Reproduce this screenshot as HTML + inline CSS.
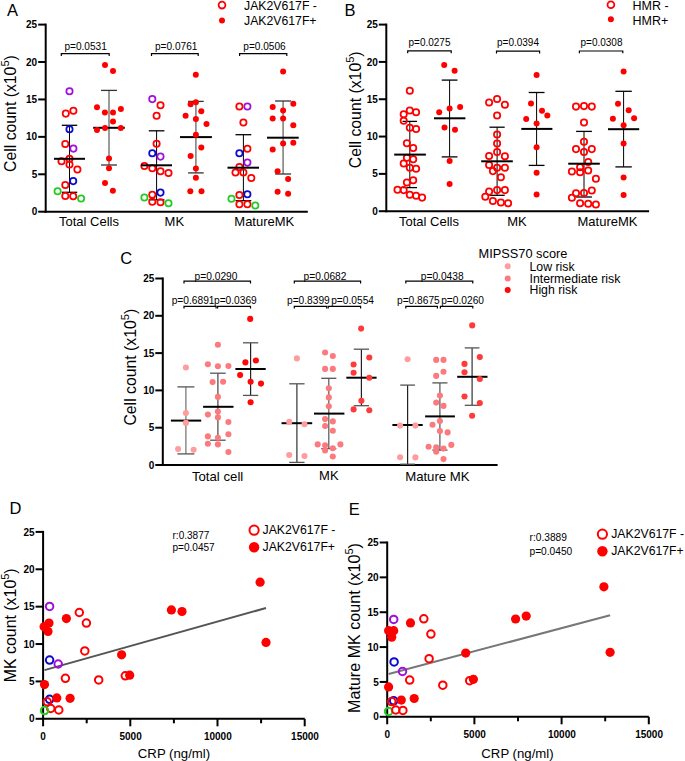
<!DOCTYPE html><html><head><meta charset="utf-8"><style>html,body{margin:0;padding:0;background:#fff;width:685px;height:761px;overflow:hidden}svg{display:block}text{font-family:"Liberation Sans",sans-serif}</style></head><body>
<svg width="685" height="761" viewBox="0 0 685 761">
<rect width="685" height="761" fill="#fff"/>
<text x="7" y="16.2" font-size="16.5" text-anchor="start" font-weight="normal" fill="#000" >A</text>
<line x1="45.7" y1="23.6" x2="45.7" y2="212.7" stroke="#000" stroke-width="2" stroke-linecap="butt"/>
<line x1="38.2" y1="211.7" x2="45.7" y2="211.7" stroke="#000" stroke-width="2" stroke-linecap="butt"/>
<text x="37.2" y="215.29999999999998" font-size="10" text-anchor="end" font-weight="bold" fill="#000" >0</text>
<line x1="38.2" y1="174.27999999999997" x2="45.7" y2="174.27999999999997" stroke="#000" stroke-width="2" stroke-linecap="butt"/>
<text x="37.2" y="177.87999999999997" font-size="10" text-anchor="end" font-weight="bold" fill="#000" >5</text>
<line x1="38.2" y1="136.85999999999999" x2="45.7" y2="136.85999999999999" stroke="#000" stroke-width="2" stroke-linecap="butt"/>
<text x="37.2" y="140.45999999999998" font-size="10" text-anchor="end" font-weight="bold" fill="#000" >10</text>
<line x1="38.2" y1="99.43999999999998" x2="45.7" y2="99.43999999999998" stroke="#000" stroke-width="2" stroke-linecap="butt"/>
<text x="37.2" y="103.03999999999998" font-size="10" text-anchor="end" font-weight="bold" fill="#000" >15</text>
<line x1="38.2" y1="62.01999999999998" x2="45.7" y2="62.01999999999998" stroke="#000" stroke-width="2" stroke-linecap="butt"/>
<text x="37.2" y="65.61999999999998" font-size="10" text-anchor="end" font-weight="bold" fill="#000" >20</text>
<line x1="38.2" y1="24.599999999999994" x2="45.7" y2="24.599999999999994" stroke="#000" stroke-width="2" stroke-linecap="butt"/>
<text x="37.2" y="28.199999999999996" font-size="10" text-anchor="end" font-weight="bold" fill="#000" >25</text>
<line x1="44.7" y1="211.7" x2="307.8" y2="211.7" stroke="#000" stroke-width="2" stroke-linecap="butt"/>
<text transform="translate(16,113.6) rotate(-90)" font-size="15.8" text-anchor="middle">Cell count (x10<tspan font-size="11" dy="-7">5</tspan><tspan dy="7">)</tspan></text>
<text x="89" y="226.1" font-size="13" text-anchor="middle" font-weight="normal" fill="#000" >Total Cells</text>
<text x="174.3" y="226.1" font-size="13" text-anchor="middle" font-weight="normal" fill="#000" >MK</text>
<text x="264.3" y="226.1" font-size="13" text-anchor="middle" font-weight="normal" fill="#000" >MatureMK</text>
<circle cx="222" cy="5.1" r="3.4" fill="none" stroke="#ff0000" stroke-width="1.8"/>
<circle cx="222" cy="20.6" r="3.0" fill="#ff0000"/>
<text x="244" y="9.8" font-size="12.25" text-anchor="start" font-weight="normal" fill="#000" >JAK2V617F -</text>
<text x="244" y="24.9" font-size="12.25" text-anchor="start" font-weight="normal" fill="#000" >JAK2V617F+</text>
<path d="M61.3 56.0V53.7H109.2V56.0" fill="none" stroke="#000" stroke-width="1.2"/>
<text x="85.6" y="50.3" font-size="10.1" text-anchor="middle" font-weight="normal" fill="#000" >p=0.0531</text>
<path d="M151.5 56.0V53.7H198.2V56.0" fill="none" stroke="#000" stroke-width="1.2"/>
<text x="176.2" y="50.3" font-size="10.1" text-anchor="middle" font-weight="normal" fill="#000" >p=0.0761</text>
<path d="M239.6 56.0V53.7H286.8V56.0" fill="none" stroke="#000" stroke-width="1.2"/>
<text x="264.5" y="50.3" font-size="10.1" text-anchor="middle" font-weight="normal" fill="#000" >p=0.0506</text>
<line x1="69.5" y1="125.3" x2="69.5" y2="192.3" stroke="#000" stroke-width="1.0" stroke-linecap="butt"/>
<line x1="61.8" y1="125.3" x2="77.2" y2="125.3" stroke="#000" stroke-width="1.3" stroke-linecap="butt"/>
<line x1="61.8" y1="192.3" x2="77.2" y2="192.3" stroke="#000" stroke-width="1.3" stroke-linecap="butt"/>
<circle cx="69.5" cy="91.3" r="3.15" fill="none" stroke="#a010dc" stroke-width="1.75"/>
<circle cx="65.8" cy="113.6" r="3.15" fill="none" stroke="#ff0000" stroke-width="1.75"/>
<circle cx="73.4" cy="110.7" r="3.15" fill="none" stroke="#ff0000" stroke-width="1.75"/>
<circle cx="69.5" cy="129.3" r="3.15" fill="none" stroke="#0a0ad0" stroke-width="1.75"/>
<circle cx="65.3" cy="143.9" r="3.15" fill="none" stroke="#ff0000" stroke-width="1.75"/>
<circle cx="73.4" cy="148.6" r="3.15" fill="none" stroke="#a010dc" stroke-width="1.75"/>
<circle cx="61.5" cy="161.3" r="3.15" fill="none" stroke="#ff0000" stroke-width="1.75"/>
<circle cx="69.5" cy="158.8" r="3.15" fill="none" stroke="#ff0000" stroke-width="1.75"/>
<circle cx="69.5" cy="164.5" r="3.15" fill="none" stroke="#ff0000" stroke-width="1.75"/>
<circle cx="77.4" cy="169.5" r="3.15" fill="none" stroke="#ff0000" stroke-width="1.75"/>
<circle cx="73.2" cy="181.1" r="3.15" fill="none" stroke="#0a0ad0" stroke-width="1.75"/>
<circle cx="65.3" cy="184.9" r="3.15" fill="none" stroke="#ff0000" stroke-width="1.75"/>
<circle cx="57.6" cy="191.3" r="3.15" fill="none" stroke="#22cc22" stroke-width="1.75"/>
<circle cx="65.3" cy="196" r="3.15" fill="none" stroke="#ff0000" stroke-width="1.75"/>
<circle cx="73.2" cy="196.3" r="3.15" fill="none" stroke="#ff0000" stroke-width="1.75"/>
<circle cx="81.1" cy="198.5" r="3.15" fill="none" stroke="#22cc22" stroke-width="1.75"/>
<line x1="54" y1="158.8" x2="85" y2="158.8" stroke="#000" stroke-width="2.0" stroke-linecap="butt"/>
<line x1="109" y1="90.4" x2="109" y2="165" stroke="#7a7a7a" stroke-width="1.5" stroke-linecap="butt"/>
<line x1="101.05" y1="90.4" x2="116.95" y2="90.4" stroke="#333" stroke-width="1.3" stroke-linecap="butt"/>
<line x1="101.05" y1="165" x2="116.95" y2="165" stroke="#333" stroke-width="1.3" stroke-linecap="butt"/>
<line x1="93.2" y1="127.8" x2="124.8" y2="127.8" stroke="#000" stroke-width="2.0" stroke-linecap="butt"/>
<circle cx="105" cy="65" r="3.0" fill="#ff0000"/>
<circle cx="113" cy="71" r="3.0" fill="#ff0000"/>
<circle cx="97" cy="107.2" r="3.0" fill="#ff0000"/>
<circle cx="104.9" cy="112.6" r="3.0" fill="#ff0000"/>
<circle cx="113" cy="112.6" r="3.0" fill="#ff0000"/>
<circle cx="120.9" cy="109" r="3.0" fill="#ff0000"/>
<circle cx="113" cy="121.6" r="3.0" fill="#ff0000"/>
<circle cx="97" cy="130" r="3.0" fill="#ff0000"/>
<circle cx="105" cy="128" r="3.0" fill="#ff0000"/>
<circle cx="120.8" cy="128" r="3.0" fill="#ff0000"/>
<circle cx="109" cy="158.6" r="3.0" fill="#ff0000"/>
<circle cx="109" cy="168.2" r="3.0" fill="#ff0000"/>
<circle cx="105" cy="183.1" r="3.0" fill="#ff0000"/>
<circle cx="112.9" cy="190.8" r="3.0" fill="#ff0000"/>
<line x1="156.6" y1="130.8" x2="156.6" y2="199.8" stroke="#000" stroke-width="1.0" stroke-linecap="butt"/>
<line x1="148.79999999999998" y1="130.8" x2="164.4" y2="130.8" stroke="#000" stroke-width="1.3" stroke-linecap="butt"/>
<line x1="148.79999999999998" y1="199.8" x2="164.4" y2="199.8" stroke="#000" stroke-width="1.3" stroke-linecap="butt"/>
<circle cx="152.3" cy="99.1" r="3.15" fill="none" stroke="#a010dc" stroke-width="1.75"/>
<circle cx="160.5" cy="105.3" r="3.15" fill="none" stroke="#ff0000" stroke-width="1.75"/>
<circle cx="156.6" cy="115.7" r="3.15" fill="none" stroke="#ff0000" stroke-width="1.75"/>
<circle cx="156.6" cy="143.7" r="3.15" fill="none" stroke="#ff0000" stroke-width="1.75"/>
<circle cx="152.3" cy="153.2" r="3.15" fill="none" stroke="#0a0ad0" stroke-width="1.75"/>
<circle cx="160.5" cy="156.6" r="3.15" fill="none" stroke="#a010dc" stroke-width="1.75"/>
<circle cx="144.4" cy="166" r="3.15" fill="none" stroke="#ff0000" stroke-width="1.75"/>
<circle cx="152.3" cy="168.2" r="3.15" fill="none" stroke="#ff0000" stroke-width="1.75"/>
<circle cx="160.5" cy="171.2" r="3.15" fill="none" stroke="#ff0000" stroke-width="1.75"/>
<circle cx="168.5" cy="173" r="3.15" fill="none" stroke="#ff0000" stroke-width="1.75"/>
<circle cx="160.5" cy="192.6" r="3.15" fill="none" stroke="#0a0ad0" stroke-width="1.75"/>
<circle cx="152.3" cy="194.8" r="3.15" fill="none" stroke="#ff0000" stroke-width="1.75"/>
<circle cx="144.4" cy="197.5" r="3.15" fill="none" stroke="#22cc22" stroke-width="1.75"/>
<circle cx="152.3" cy="201.7" r="3.15" fill="none" stroke="#ff0000" stroke-width="1.75"/>
<circle cx="160.5" cy="202.2" r="3.15" fill="none" stroke="#ff0000" stroke-width="1.75"/>
<circle cx="168.5" cy="203.2" r="3.15" fill="none" stroke="#22cc22" stroke-width="1.75"/>
<line x1="141" y1="165.3" x2="172" y2="165.3" stroke="#000" stroke-width="2.0" stroke-linecap="butt"/>
<line x1="195.9" y1="101.4" x2="195.9" y2="172.9" stroke="#7a7a7a" stroke-width="1.5" stroke-linecap="butt"/>
<line x1="188.1" y1="101.4" x2="203.70000000000002" y2="101.4" stroke="#333" stroke-width="1.3" stroke-linecap="butt"/>
<line x1="188.1" y1="172.9" x2="203.70000000000002" y2="172.9" stroke="#333" stroke-width="1.3" stroke-linecap="butt"/>
<line x1="180" y1="137.1" x2="211.9" y2="137.1" stroke="#000" stroke-width="2.0" stroke-linecap="butt"/>
<circle cx="195.8" cy="74.7" r="3.0" fill="#ff0000"/>
<circle cx="195.9" cy="102.3" r="3.0" fill="#ff0000"/>
<circle cx="190.6" cy="104.2" r="3.0" fill="#ff0000"/>
<circle cx="201.3" cy="111.2" r="3.0" fill="#ff0000"/>
<circle cx="185.6" cy="115.7" r="3.0" fill="#ff0000"/>
<circle cx="195.9" cy="119" r="3.0" fill="#ff0000"/>
<circle cx="206.5" cy="124" r="3.0" fill="#ff0000"/>
<circle cx="195.9" cy="134.7" r="3.0" fill="#ff0000"/>
<circle cx="201.3" cy="147.5" r="3.0" fill="#ff0000"/>
<circle cx="190.6" cy="155.9" r="3.0" fill="#ff0000"/>
<circle cx="195.9" cy="168.4" r="3.0" fill="#ff0000"/>
<circle cx="195.9" cy="177.7" r="3.0" fill="#ff0000"/>
<circle cx="190.3" cy="191.3" r="3.0" fill="#ff0000"/>
<circle cx="201.5" cy="191.3" r="3.0" fill="#ff0000"/>
<line x1="243.4" y1="134.7" x2="243.4" y2="200.7" stroke="#000" stroke-width="1.0" stroke-linecap="butt"/>
<line x1="235.5" y1="134.7" x2="251.3" y2="134.7" stroke="#000" stroke-width="1.3" stroke-linecap="butt"/>
<line x1="235.5" y1="200.7" x2="251.3" y2="200.7" stroke="#000" stroke-width="1.3" stroke-linecap="butt"/>
<circle cx="239.4" cy="106.5" r="3.15" fill="none" stroke="#ff0000" stroke-width="1.75"/>
<circle cx="247.4" cy="106.5" r="3.15" fill="none" stroke="#a010dc" stroke-width="1.75"/>
<circle cx="243.4" cy="122.4" r="3.15" fill="none" stroke="#ff0000" stroke-width="1.75"/>
<circle cx="247.4" cy="148.7" r="3.15" fill="none" stroke="#ff0000" stroke-width="1.75"/>
<circle cx="239.4" cy="153.2" r="3.15" fill="none" stroke="#0a0ad0" stroke-width="1.75"/>
<circle cx="247.4" cy="162.6" r="3.15" fill="none" stroke="#a010dc" stroke-width="1.75"/>
<circle cx="239.4" cy="167" r="3.15" fill="none" stroke="#ff0000" stroke-width="1.75"/>
<circle cx="235.5" cy="172.5" r="3.15" fill="none" stroke="#ff0000" stroke-width="1.75"/>
<circle cx="243.4" cy="172.5" r="3.15" fill="none" stroke="#ff0000" stroke-width="1.75"/>
<circle cx="251.3" cy="177.9" r="3.15" fill="none" stroke="#ff0000" stroke-width="1.75"/>
<circle cx="247.4" cy="194.3" r="3.15" fill="none" stroke="#0a0ad0" stroke-width="1.75"/>
<circle cx="239.4" cy="195" r="3.15" fill="none" stroke="#ff0000" stroke-width="1.75"/>
<circle cx="231.5" cy="198.8" r="3.15" fill="none" stroke="#22cc22" stroke-width="1.75"/>
<circle cx="239.4" cy="204.2" r="3.15" fill="none" stroke="#ff0000" stroke-width="1.75"/>
<circle cx="247.4" cy="204.2" r="3.15" fill="none" stroke="#ff0000" stroke-width="1.75"/>
<circle cx="255.3" cy="205.5" r="3.15" fill="none" stroke="#22cc22" stroke-width="1.75"/>
<line x1="227.5" y1="167.7" x2="259" y2="167.7" stroke="#000" stroke-width="2.0" stroke-linecap="butt"/>
<line x1="283.1" y1="101" x2="283.1" y2="174" stroke="#7a7a7a" stroke-width="1.5" stroke-linecap="butt"/>
<line x1="275.1" y1="101" x2="291.1" y2="101" stroke="#333" stroke-width="1.3" stroke-linecap="butt"/>
<line x1="275.1" y1="174" x2="291.1" y2="174" stroke="#333" stroke-width="1.3" stroke-linecap="butt"/>
<line x1="267" y1="137.7" x2="298.7" y2="137.7" stroke="#000" stroke-width="2.0" stroke-linecap="butt"/>
<circle cx="283.1" cy="71.5" r="3.0" fill="#ff0000"/>
<circle cx="272.7" cy="107" r="3.0" fill="#ff0000"/>
<circle cx="293.3" cy="103.7" r="3.0" fill="#ff0000"/>
<circle cx="283.1" cy="110.4" r="3.0" fill="#ff0000"/>
<circle cx="272.7" cy="118.6" r="3.0" fill="#ff0000"/>
<circle cx="283.1" cy="118.6" r="3.0" fill="#ff0000"/>
<circle cx="293.3" cy="125.3" r="3.0" fill="#ff0000"/>
<circle cx="272.7" cy="149.6" r="3.0" fill="#ff0000"/>
<circle cx="283.1" cy="143.4" r="3.0" fill="#ff0000"/>
<circle cx="293.3" cy="142.7" r="3.0" fill="#ff0000"/>
<circle cx="277.6" cy="171.2" r="3.0" fill="#ff0000"/>
<circle cx="288.1" cy="178.9" r="3.0" fill="#ff0000"/>
<circle cx="277.6" cy="191.8" r="3.0" fill="#ff0000"/>
<circle cx="288.1" cy="193.8" r="3.0" fill="#ff0000"/>
<text x="344.6" y="16.0" font-size="16.5" text-anchor="start" font-weight="normal" fill="#000" >B</text>
<line x1="386.3" y1="23.6" x2="386.3" y2="212.2" stroke="#000" stroke-width="2" stroke-linecap="butt"/>
<line x1="378.8" y1="211.2" x2="386.3" y2="211.2" stroke="#000" stroke-width="2" stroke-linecap="butt"/>
<text x="377.8" y="214.79999999999998" font-size="10" text-anchor="end" font-weight="bold" fill="#000" >0</text>
<line x1="378.8" y1="173.88" x2="386.3" y2="173.88" stroke="#000" stroke-width="2" stroke-linecap="butt"/>
<text x="377.8" y="177.48" font-size="10" text-anchor="end" font-weight="bold" fill="#000" >5</text>
<line x1="378.8" y1="136.56" x2="386.3" y2="136.56" stroke="#000" stroke-width="2" stroke-linecap="butt"/>
<text x="377.8" y="140.16" font-size="10" text-anchor="end" font-weight="bold" fill="#000" >10</text>
<line x1="378.8" y1="99.24" x2="386.3" y2="99.24" stroke="#000" stroke-width="2" stroke-linecap="butt"/>
<text x="377.8" y="102.83999999999999" font-size="10" text-anchor="end" font-weight="bold" fill="#000" >15</text>
<line x1="378.8" y1="61.91999999999999" x2="386.3" y2="61.91999999999999" stroke="#000" stroke-width="2" stroke-linecap="butt"/>
<text x="377.8" y="65.51999999999998" font-size="10" text-anchor="end" font-weight="bold" fill="#000" >20</text>
<line x1="378.8" y1="24.599999999999994" x2="386.3" y2="24.599999999999994" stroke="#000" stroke-width="2" stroke-linecap="butt"/>
<text x="377.8" y="28.199999999999996" font-size="10" text-anchor="end" font-weight="bold" fill="#000" >25</text>
<line x1="385.3" y1="211.2" x2="649.1" y2="211.2" stroke="#000" stroke-width="2" stroke-linecap="butt"/>
<text transform="translate(360.5,109.8) rotate(-90)" font-size="15.8" text-anchor="middle">Cell count (x10<tspan font-size="11" dy="-7">5</tspan><tspan dy="7">)</tspan></text>
<text x="429" y="226.1" font-size="13" text-anchor="middle" font-weight="normal" fill="#000" >Total Cells</text>
<text x="517" y="226.1" font-size="13" text-anchor="middle" font-weight="normal" fill="#000" >MK</text>
<text x="607.5" y="226.1" font-size="13" text-anchor="middle" font-weight="normal" fill="#000" >MatureMK</text>
<circle cx="610.9" cy="4.8" r="3.4" fill="none" stroke="#ff0000" stroke-width="1.8"/>
<circle cx="610.9" cy="19.2" r="3.0" fill="#ff0000"/>
<text x="632.5" y="10" font-size="12.5" text-anchor="start" font-weight="normal" fill="#000" >HMR -</text>
<text x="632.5" y="24.5" font-size="12.5" text-anchor="start" font-weight="normal" fill="#000" >HMR+</text>
<path d="M407.7 53.199999999999996V50.9H451.2V53.199999999999996" fill="none" stroke="#000" stroke-width="1.2"/>
<text x="429.5" y="46.4" font-size="10.0" text-anchor="middle" font-weight="normal" fill="#000" >p=0.0275</text>
<path d="M496.5 53.5V51.2H539.6V53.5" fill="none" stroke="#000" stroke-width="1.2"/>
<text x="518" y="46.4" font-size="10.0" text-anchor="middle" font-weight="normal" fill="#000" >p=0.0394</text>
<path d="M579.4 53.3V51.0H622.8V53.3" fill="none" stroke="#000" stroke-width="1.2"/>
<text x="601.5" y="46.4" font-size="10.0" text-anchor="middle" font-weight="normal" fill="#000" >p=0.0308</text>
<line x1="409.8" y1="121.4" x2="409.8" y2="187.6" stroke="#000" stroke-width="1.0" stroke-linecap="butt"/>
<line x1="402.55" y1="121.4" x2="417.05" y2="121.4" stroke="#000" stroke-width="1.3" stroke-linecap="butt"/>
<line x1="402.55" y1="187.6" x2="417.05" y2="187.6" stroke="#000" stroke-width="1.3" stroke-linecap="butt"/>
<circle cx="409.8" cy="90.8" r="3.15" fill="none" stroke="#ff0000" stroke-width="1.75"/>
<circle cx="403.7" cy="114.2" r="3.15" fill="none" stroke="#ff0000" stroke-width="1.75"/>
<circle cx="409.8" cy="110.4" r="3.15" fill="none" stroke="#ff0000" stroke-width="1.75"/>
<circle cx="416.1" cy="112.3" r="3.15" fill="none" stroke="#ff0000" stroke-width="1.75"/>
<circle cx="403.7" cy="120.8" r="3.15" fill="none" stroke="#ff0000" stroke-width="1.75"/>
<circle cx="409.8" cy="127.8" r="3.15" fill="none" stroke="#ff0000" stroke-width="1.75"/>
<circle cx="416.1" cy="129" r="3.15" fill="none" stroke="#ff0000" stroke-width="1.75"/>
<circle cx="406.9" cy="143.2" r="3.15" fill="none" stroke="#ff0000" stroke-width="1.75"/>
<circle cx="413.2" cy="147.9" r="3.15" fill="none" stroke="#ff0000" stroke-width="1.75"/>
<circle cx="406.9" cy="157.8" r="3.15" fill="none" stroke="#ff0000" stroke-width="1.75"/>
<circle cx="413.2" cy="159.3" r="3.15" fill="none" stroke="#ff0000" stroke-width="1.75"/>
<circle cx="403.7" cy="163.5" r="3.15" fill="none" stroke="#ff0000" stroke-width="1.75"/>
<circle cx="409.8" cy="167.7" r="3.15" fill="none" stroke="#ff0000" stroke-width="1.75"/>
<circle cx="416.1" cy="168.8" r="3.15" fill="none" stroke="#ff0000" stroke-width="1.75"/>
<circle cx="406.9" cy="182.5" r="3.15" fill="none" stroke="#ff0000" stroke-width="1.75"/>
<circle cx="413.2" cy="180.2" r="3.15" fill="none" stroke="#ff0000" stroke-width="1.75"/>
<circle cx="397.5" cy="189.7" r="3.15" fill="none" stroke="#ff0000" stroke-width="1.75"/>
<circle cx="403.7" cy="190.1" r="3.15" fill="none" stroke="#ff0000" stroke-width="1.75"/>
<circle cx="409.8" cy="194.8" r="3.15" fill="none" stroke="#ff0000" stroke-width="1.75"/>
<circle cx="416.1" cy="195.7" r="3.15" fill="none" stroke="#ff0000" stroke-width="1.75"/>
<circle cx="422.1" cy="197.6" r="3.15" fill="none" stroke="#ff0000" stroke-width="1.75"/>
<line x1="394.2" y1="154.6" x2="425.9" y2="154.6" stroke="#000" stroke-width="2.0" stroke-linecap="butt"/>
<line x1="449.6" y1="80.1" x2="449.6" y2="156.9" stroke="#000" stroke-width="1.0" stroke-linecap="butt"/>
<line x1="441.75" y1="80.1" x2="457.45000000000005" y2="80.1" stroke="#000" stroke-width="1.3" stroke-linecap="butt"/>
<line x1="441.75" y1="156.9" x2="457.45000000000005" y2="156.9" stroke="#000" stroke-width="1.3" stroke-linecap="butt"/>
<circle cx="444.2" cy="65" r="3.0" fill="#ff0000"/>
<circle cx="454.6" cy="70.7" r="3.0" fill="#ff0000"/>
<circle cx="439.2" cy="112.3" r="3.0" fill="#ff0000"/>
<circle cx="449.6" cy="108.5" r="3.0" fill="#ff0000"/>
<circle cx="460.1" cy="106.9" r="3.0" fill="#ff0000"/>
<circle cx="444.5" cy="127.4" r="3.0" fill="#ff0000"/>
<circle cx="455" cy="129.7" r="3.0" fill="#ff0000"/>
<circle cx="449.6" cy="161" r="3.0" fill="#ff0000"/>
<circle cx="449.6" cy="184" r="3.0" fill="#ff0000"/>
<line x1="434" y1="118.3" x2="465.4" y2="118.3" stroke="#000" stroke-width="2.0" stroke-linecap="butt"/>
<line x1="497.1" y1="127.2" x2="497.1" y2="195.3" stroke="#000" stroke-width="1.0" stroke-linecap="butt"/>
<line x1="489.5" y1="127.2" x2="504.70000000000005" y2="127.2" stroke="#000" stroke-width="1.3" stroke-linecap="butt"/>
<line x1="489.5" y1="195.3" x2="504.70000000000005" y2="195.3" stroke="#000" stroke-width="1.3" stroke-linecap="butt"/>
<circle cx="489.1" cy="102.4" r="3.15" fill="none" stroke="#ff0000" stroke-width="1.75"/>
<circle cx="497.1" cy="99" r="3.15" fill="none" stroke="#ff0000" stroke-width="1.75"/>
<circle cx="504.9" cy="104.7" r="3.15" fill="none" stroke="#ff0000" stroke-width="1.75"/>
<circle cx="497.1" cy="115.5" r="3.15" fill="none" stroke="#ff0000" stroke-width="1.75"/>
<circle cx="497.1" cy="134.5" r="3.15" fill="none" stroke="#ff0000" stroke-width="1.75"/>
<circle cx="497.1" cy="143.6" r="3.15" fill="none" stroke="#ff0000" stroke-width="1.75"/>
<circle cx="497.1" cy="152.1" r="3.15" fill="none" stroke="#ff0000" stroke-width="1.75"/>
<circle cx="489.1" cy="155.9" r="3.15" fill="none" stroke="#ff0000" stroke-width="1.75"/>
<circle cx="504.9" cy="156.3" r="3.15" fill="none" stroke="#ff0000" stroke-width="1.75"/>
<circle cx="489.1" cy="165" r="3.15" fill="none" stroke="#ff0000" stroke-width="1.75"/>
<circle cx="497.1" cy="167.7" r="3.15" fill="none" stroke="#ff0000" stroke-width="1.75"/>
<circle cx="504.9" cy="167.7" r="3.15" fill="none" stroke="#ff0000" stroke-width="1.75"/>
<circle cx="492.9" cy="171.1" r="3.15" fill="none" stroke="#ff0000" stroke-width="1.75"/>
<circle cx="500.9" cy="177.2" r="3.15" fill="none" stroke="#ff0000" stroke-width="1.75"/>
<circle cx="489.1" cy="191.6" r="3.15" fill="none" stroke="#ff0000" stroke-width="1.75"/>
<circle cx="497.1" cy="190.1" r="3.15" fill="none" stroke="#ff0000" stroke-width="1.75"/>
<circle cx="504.9" cy="190.1" r="3.15" fill="none" stroke="#ff0000" stroke-width="1.75"/>
<circle cx="485.3" cy="196.7" r="3.15" fill="none" stroke="#ff0000" stroke-width="1.75"/>
<circle cx="492.9" cy="200.9" r="3.15" fill="none" stroke="#ff0000" stroke-width="1.75"/>
<circle cx="500.9" cy="202.4" r="3.15" fill="none" stroke="#ff0000" stroke-width="1.75"/>
<circle cx="508.1" cy="203.3" r="3.15" fill="none" stroke="#ff0000" stroke-width="1.75"/>
<line x1="481.2" y1="161.3" x2="512.8" y2="161.3" stroke="#000" stroke-width="2.0" stroke-linecap="butt"/>
<line x1="536.6" y1="92.5" x2="536.6" y2="165.4" stroke="#000" stroke-width="1.0" stroke-linecap="butt"/>
<line x1="528.7" y1="92.5" x2="544.5" y2="92.5" stroke="#000" stroke-width="1.3" stroke-linecap="butt"/>
<line x1="528.7" y1="165.4" x2="544.5" y2="165.4" stroke="#000" stroke-width="1.3" stroke-linecap="butt"/>
<circle cx="536.6" cy="75" r="3.0" fill="#ff0000"/>
<circle cx="531" cy="103.4" r="3.0" fill="#ff0000"/>
<circle cx="542" cy="110.7" r="3.0" fill="#ff0000"/>
<circle cx="547.3" cy="115.6" r="3.0" fill="#ff0000"/>
<circle cx="526.2" cy="119" r="3.0" fill="#ff0000"/>
<circle cx="536.6" cy="123.6" r="3.0" fill="#ff0000"/>
<circle cx="536.6" cy="147.2" r="3.0" fill="#ff0000"/>
<circle cx="536.6" cy="172.7" r="3.0" fill="#ff0000"/>
<circle cx="536.6" cy="194.6" r="3.0" fill="#ff0000"/>
<line x1="521.3" y1="128.9" x2="552.4" y2="128.9" stroke="#000" stroke-width="2.0" stroke-linecap="butt"/>
<line x1="584" y1="131.4" x2="584" y2="197" stroke="#000" stroke-width="1.0" stroke-linecap="butt"/>
<line x1="576.1" y1="131.4" x2="591.9" y2="131.4" stroke="#000" stroke-width="1.3" stroke-linecap="butt"/>
<line x1="576.1" y1="197" x2="591.9" y2="197" stroke="#000" stroke-width="1.3" stroke-linecap="butt"/>
<circle cx="576" cy="106.6" r="3.15" fill="none" stroke="#ff0000" stroke-width="1.75"/>
<circle cx="584" cy="106.1" r="3.15" fill="none" stroke="#ff0000" stroke-width="1.75"/>
<circle cx="591.8" cy="106.6" r="3.15" fill="none" stroke="#ff0000" stroke-width="1.75"/>
<circle cx="584" cy="122.4" r="3.15" fill="none" stroke="#ff0000" stroke-width="1.75"/>
<circle cx="584" cy="141.8" r="3.15" fill="none" stroke="#ff0000" stroke-width="1.75"/>
<circle cx="576" cy="149.1" r="3.15" fill="none" stroke="#ff0000" stroke-width="1.75"/>
<circle cx="584" cy="152" r="3.15" fill="none" stroke="#ff0000" stroke-width="1.75"/>
<circle cx="591.8" cy="149.1" r="3.15" fill="none" stroke="#ff0000" stroke-width="1.75"/>
<circle cx="588.2" cy="162" r="3.15" fill="none" stroke="#ff0000" stroke-width="1.75"/>
<circle cx="580.1" cy="167.3" r="3.15" fill="none" stroke="#ff0000" stroke-width="1.75"/>
<circle cx="571.9" cy="171.5" r="3.15" fill="none" stroke="#ff0000" stroke-width="1.75"/>
<circle cx="580.1" cy="172.2" r="3.15" fill="none" stroke="#ff0000" stroke-width="1.75"/>
<circle cx="588.2" cy="170.5" r="3.15" fill="none" stroke="#ff0000" stroke-width="1.75"/>
<circle cx="595.9" cy="178.8" r="3.15" fill="none" stroke="#ff0000" stroke-width="1.75"/>
<circle cx="576" cy="193.3" r="3.15" fill="none" stroke="#ff0000" stroke-width="1.75"/>
<circle cx="584" cy="192.9" r="3.15" fill="none" stroke="#ff0000" stroke-width="1.75"/>
<circle cx="591.8" cy="190.4" r="3.15" fill="none" stroke="#ff0000" stroke-width="1.75"/>
<circle cx="571.9" cy="197.7" r="3.15" fill="none" stroke="#ff0000" stroke-width="1.75"/>
<circle cx="580.1" cy="203.3" r="3.15" fill="none" stroke="#ff0000" stroke-width="1.75"/>
<circle cx="588.2" cy="203.8" r="3.15" fill="none" stroke="#ff0000" stroke-width="1.75"/>
<circle cx="595.9" cy="204.5" r="3.15" fill="none" stroke="#ff0000" stroke-width="1.75"/>
<line x1="568.2" y1="163.7" x2="599.8" y2="163.7" stroke="#000" stroke-width="2.0" stroke-linecap="butt"/>
<line x1="623.6" y1="91.3" x2="623.6" y2="166.9" stroke="#000" stroke-width="1.0" stroke-linecap="butt"/>
<line x1="615.4" y1="91.3" x2="631.8000000000001" y2="91.3" stroke="#000" stroke-width="1.3" stroke-linecap="butt"/>
<line x1="615.4" y1="166.9" x2="631.8000000000001" y2="166.9" stroke="#000" stroke-width="1.3" stroke-linecap="butt"/>
<circle cx="623.6" cy="71.5" r="3.0" fill="#ff0000"/>
<circle cx="618" cy="103.8" r="3.0" fill="#ff0000"/>
<circle cx="628.7" cy="110.3" r="3.0" fill="#ff0000"/>
<circle cx="612.9" cy="118.8" r="3.0" fill="#ff0000"/>
<circle cx="623.6" cy="125.3" r="3.0" fill="#ff0000"/>
<circle cx="634.1" cy="118.2" r="3.0" fill="#ff0000"/>
<circle cx="623.6" cy="143.4" r="3.0" fill="#ff0000"/>
<circle cx="623.6" cy="177.6" r="3.0" fill="#ff0000"/>
<circle cx="623.6" cy="195.1" r="3.0" fill="#ff0000"/>
<line x1="608" y1="129.2" x2="639.2" y2="129.2" stroke="#000" stroke-width="2.0" stroke-linecap="butt"/>
<text x="120.2" y="264" font-size="16.5" text-anchor="start" font-weight="normal" fill="#000" >C</text>
<line x1="162.8" y1="277.5" x2="162.8" y2="466.0" stroke="#000" stroke-width="2" stroke-linecap="butt"/>
<line x1="155.3" y1="465.0" x2="162.8" y2="465.0" stroke="#000" stroke-width="2" stroke-linecap="butt"/>
<text x="154.3" y="468.6" font-size="10" text-anchor="end" font-weight="bold" fill="#000" >0</text>
<line x1="155.3" y1="427.7" x2="162.8" y2="427.7" stroke="#000" stroke-width="2" stroke-linecap="butt"/>
<text x="154.3" y="431.3" font-size="10" text-anchor="end" font-weight="bold" fill="#000" >5</text>
<line x1="155.3" y1="390.4" x2="162.8" y2="390.4" stroke="#000" stroke-width="2" stroke-linecap="butt"/>
<text x="154.3" y="394.0" font-size="10" text-anchor="end" font-weight="bold" fill="#000" >10</text>
<line x1="155.3" y1="353.1" x2="162.8" y2="353.1" stroke="#000" stroke-width="2" stroke-linecap="butt"/>
<text x="154.3" y="356.70000000000005" font-size="10" text-anchor="end" font-weight="bold" fill="#000" >15</text>
<line x1="155.3" y1="315.8" x2="162.8" y2="315.8" stroke="#000" stroke-width="2" stroke-linecap="butt"/>
<text x="154.3" y="319.40000000000003" font-size="10" text-anchor="end" font-weight="bold" fill="#000" >20</text>
<line x1="155.3" y1="278.5" x2="162.8" y2="278.5" stroke="#000" stroke-width="2" stroke-linecap="butt"/>
<text x="154.3" y="282.1" font-size="10" text-anchor="end" font-weight="bold" fill="#000" >25</text>
<line x1="161.8" y1="465.0" x2="497.6" y2="465.0" stroke="#000" stroke-width="2" stroke-linecap="butt"/>
<text transform="translate(135.8,367.2) rotate(-90)" font-size="15.8" text-anchor="middle">Cell count (x10<tspan font-size="11" dy="-7">5</tspan><tspan dy="7">)</tspan></text>
<text x="217.6" y="481" font-size="13.2" text-anchor="middle" font-weight="normal" fill="#000" >Total cell</text>
<text x="328.8" y="480" font-size="13" text-anchor="middle" font-weight="normal" fill="#000" >MK</text>
<text x="437.4" y="481" font-size="13.2" text-anchor="middle" font-weight="normal" fill="#000" >Mature MK</text>
<text x="478.5" y="258" font-size="12.8" text-anchor="start" font-weight="normal" fill="#000" >MIPSS70 score</text>
<circle cx="507.7" cy="266.2" r="3" fill="#ff9c9e"/>
<circle cx="507.7" cy="278.5" r="3" fill="#fb7a7e"/>
<circle cx="507.7" cy="290.1" r="3" fill="#ff0808"/>
<text x="529.5" y="270.5" font-size="12.3" text-anchor="start" font-weight="normal" fill="#000" >Low risk</text>
<text x="529.5" y="282.5" font-size="12.3" text-anchor="start" font-weight="normal" fill="#000" >Intermediate risk</text>
<text x="529.5" y="294.1" font-size="12.3" text-anchor="start" font-weight="normal" fill="#000" >High risk</text>
<path d="M184.0 283.5V281.2H250.5V283.5" fill="none" stroke="#000" stroke-width="1.2"/>
<text x="216" y="279.6" font-size="10.2" text-anchor="middle" font-weight="normal" fill="#000" >p=0.0290</text>
<path d="M184.0 308.6V306.3H216.1V308.6" fill="none" stroke="#000" stroke-width="1.2"/>
<path d="M217.6 308.6V306.3H250.5V308.6" fill="none" stroke="#000" stroke-width="1.2"/>
<text x="171.7" y="303.6" font-size="10.2" text-anchor="start" font-weight="normal" fill="#000" >p=0.6891</text>
<text x="214.0" y="303.6" font-size="10.2" text-anchor="start" font-weight="normal" fill="#000" >p=0.0369</text>
<path d="M294.3 283.5V281.2H360.6V283.5" fill="none" stroke="#000" stroke-width="1.2"/>
<text x="325" y="279.6" font-size="10.2" text-anchor="middle" font-weight="normal" fill="#000" >p=0.0682</text>
<path d="M294.3 308.6V306.3H326.7V308.6" fill="none" stroke="#000" stroke-width="1.2"/>
<path d="M328.2 308.6V306.3H360.6V308.6" fill="none" stroke="#000" stroke-width="1.2"/>
<text x="287.0" y="303.6" font-size="10.2" text-anchor="start" font-weight="normal" fill="#000" >p=0.8399</text>
<text x="331.2" y="303.6" font-size="10.2" text-anchor="start" font-weight="normal" fill="#000" >p=0.0554</text>
<path d="M405.8 283.5V281.2H472.8V283.5" fill="none" stroke="#000" stroke-width="1.2"/>
<text x="442.2" y="279.6" font-size="10.2" text-anchor="middle" font-weight="normal" fill="#000" >p=0.0438</text>
<path d="M405.8 308.6V306.3H437.4V308.6" fill="none" stroke="#000" stroke-width="1.2"/>
<path d="M440.4 308.6V306.3H472.8V308.6" fill="none" stroke="#000" stroke-width="1.2"/>
<text x="397.0" y="303.6" font-size="10.2" text-anchor="start" font-weight="normal" fill="#000" >p=0.8675</text>
<text x="441.2" y="303.6" font-size="10.2" text-anchor="start" font-weight="normal" fill="#000" >p=0.0260</text>
<line x1="185.9" y1="386.9" x2="185.9" y2="453.9" stroke="#707070" stroke-width="1.2" stroke-linecap="butt"/>
<line x1="177.4" y1="386.9" x2="194.4" y2="386.9" stroke="#555" stroke-width="1.3" stroke-linecap="butt"/>
<line x1="177.4" y1="453.9" x2="194.4" y2="453.9" stroke="#555" stroke-width="1.3" stroke-linecap="butt"/>
<line x1="170.9" y1="420.6" x2="201.2" y2="420.6" stroke="#000" stroke-width="2.0" stroke-linecap="butt"/>
<circle cx="185.9" cy="367.5" r="3.05" fill="#ff9c9e"/>
<circle cx="185.9" cy="413" r="3.05" fill="#ff9c9e"/>
<circle cx="185.9" cy="422.9" r="3.05" fill="#ff9c9e"/>
<circle cx="178.1" cy="449.1" r="3.05" fill="#ff9c9e"/>
<circle cx="193.6" cy="449.7" r="3.05" fill="#ff9c9e"/>
<line x1="217.9" y1="373.2" x2="217.9" y2="440.2" stroke="#444" stroke-width="1.2" stroke-linecap="butt"/>
<line x1="210.1" y1="373.2" x2="225.70000000000002" y2="373.2" stroke="#555" stroke-width="1.3" stroke-linecap="butt"/>
<line x1="210.1" y1="440.2" x2="225.70000000000002" y2="440.2" stroke="#555" stroke-width="1.3" stroke-linecap="butt"/>
<line x1="203.1" y1="406.8" x2="233.5" y2="406.8" stroke="#000" stroke-width="2.0" stroke-linecap="butt"/>
<circle cx="217.9" cy="344.7" r="3.05" fill="#fb7a7e"/>
<circle cx="207.9" cy="364.3" r="3.05" fill="#fb7a7e"/>
<circle cx="217.9" cy="366.2" r="3.05" fill="#fb7a7e"/>
<circle cx="228.4" cy="366" r="3.05" fill="#fb7a7e"/>
<circle cx="212.6" cy="382.1" r="3.05" fill="#fb7a7e"/>
<circle cx="223.1" cy="381.7" r="3.05" fill="#fb7a7e"/>
<circle cx="217.9" cy="396.9" r="3.05" fill="#fb7a7e"/>
<circle cx="217.9" cy="411.5" r="3.05" fill="#fb7a7e"/>
<circle cx="207.9" cy="414.6" r="3.05" fill="#fb7a7e"/>
<circle cx="217.9" cy="417.4" r="3.05" fill="#fb7a7e"/>
<circle cx="228.4" cy="422" r="3.05" fill="#fb7a7e"/>
<circle cx="207.9" cy="436.4" r="3.05" fill="#fb7a7e"/>
<circle cx="217.9" cy="437.7" r="3.05" fill="#fb7a7e"/>
<circle cx="228.4" cy="434.3" r="3.05" fill="#fb7a7e"/>
<circle cx="207.9" cy="443.8" r="3.05" fill="#fb7a7e"/>
<circle cx="217.9" cy="444.4" r="3.05" fill="#fb7a7e"/>
<circle cx="228.4" cy="452" r="3.05" fill="#fb7a7e"/>
<line x1="250.6" y1="342.8" x2="250.6" y2="395.4" stroke="#222" stroke-width="1.2" stroke-linecap="butt"/>
<line x1="243.0" y1="342.8" x2="258.2" y2="342.8" stroke="#555" stroke-width="1.3" stroke-linecap="butt"/>
<line x1="243.0" y1="395.4" x2="258.2" y2="395.4" stroke="#555" stroke-width="1.3" stroke-linecap="butt"/>
<line x1="235.4" y1="369" x2="265.7" y2="369" stroke="#000" stroke-width="2.0" stroke-linecap="butt"/>
<circle cx="250.2" cy="318.9" r="3.05" fill="#ff0808"/>
<circle cx="245.4" cy="362.4" r="3.05" fill="#ff0808"/>
<circle cx="255.9" cy="360.5" r="3.05" fill="#ff0808"/>
<circle cx="240.1" cy="375.1" r="3.05" fill="#ff0808"/>
<circle cx="250.6" cy="381.7" r="3.05" fill="#ff0808"/>
<circle cx="261" cy="383.6" r="3.05" fill="#ff0808"/>
<circle cx="250.6" cy="402.2" r="3.05" fill="#ff0808"/>
<line x1="296.9" y1="383.8" x2="296.9" y2="462.4" stroke="#333" stroke-width="1.2" stroke-linecap="butt"/>
<line x1="289.25" y1="383.8" x2="304.54999999999995" y2="383.8" stroke="#555" stroke-width="1.3" stroke-linecap="butt"/>
<line x1="289.25" y1="462.4" x2="304.54999999999995" y2="462.4" stroke="#555" stroke-width="1.3" stroke-linecap="butt"/>
<line x1="281.5" y1="423.2" x2="312.2" y2="423.2" stroke="#000" stroke-width="2.0" stroke-linecap="butt"/>
<circle cx="296.9" cy="358.4" r="3.05" fill="#ff9c9e"/>
<circle cx="289.2" cy="421.9" r="3.05" fill="#ff9c9e"/>
<circle cx="304.5" cy="424.3" r="3.05" fill="#ff9c9e"/>
<circle cx="289.2" cy="455" r="3.05" fill="#ff9c9e"/>
<circle cx="304.5" cy="456" r="3.05" fill="#ff9c9e"/>
<line x1="328.8" y1="378.3" x2="328.8" y2="448.6" stroke="#555" stroke-width="1.2" stroke-linecap="butt"/>
<line x1="321.25" y1="378.3" x2="336.35" y2="378.3" stroke="#555" stroke-width="1.3" stroke-linecap="butt"/>
<line x1="321.25" y1="448.6" x2="336.35" y2="448.6" stroke="#555" stroke-width="1.3" stroke-linecap="butt"/>
<line x1="314" y1="413.6" x2="344.4" y2="413.6" stroke="#000" stroke-width="2.0" stroke-linecap="butt"/>
<circle cx="325.1" cy="352.5" r="3.05" fill="#fb7a7e"/>
<circle cx="332.8" cy="356" r="3.05" fill="#fb7a7e"/>
<circle cx="325.1" cy="368.9" r="3.05" fill="#fb7a7e"/>
<circle cx="332.8" cy="368.9" r="3.05" fill="#fb7a7e"/>
<circle cx="328.8" cy="388.2" r="3.05" fill="#fb7a7e"/>
<circle cx="328.8" cy="397.4" r="3.05" fill="#fb7a7e"/>
<circle cx="328.8" cy="406.3" r="3.05" fill="#fb7a7e"/>
<circle cx="325.1" cy="419.1" r="3.05" fill="#fb7a7e"/>
<circle cx="332.8" cy="421.4" r="3.05" fill="#fb7a7e"/>
<circle cx="325.1" cy="426" r="3.05" fill="#fb7a7e"/>
<circle cx="332.8" cy="430.7" r="3.05" fill="#fb7a7e"/>
<circle cx="317.7" cy="444.4" r="3.05" fill="#fb7a7e"/>
<circle cx="325.1" cy="445.3" r="3.05" fill="#fb7a7e"/>
<circle cx="340.4" cy="444.4" r="3.05" fill="#fb7a7e"/>
<circle cx="325.1" cy="450.4" r="3.05" fill="#fb7a7e"/>
<circle cx="332.8" cy="448.2" r="3.05" fill="#fb7a7e"/>
<circle cx="332.8" cy="456.5" r="3.05" fill="#fb7a7e"/>
<line x1="361.4" y1="349.2" x2="361.4" y2="405.7" stroke="#222" stroke-width="1.2" stroke-linecap="butt"/>
<line x1="353.75" y1="349.2" x2="369.04999999999995" y2="349.2" stroke="#555" stroke-width="1.3" stroke-linecap="butt"/>
<line x1="353.75" y1="405.7" x2="369.04999999999995" y2="405.7" stroke="#555" stroke-width="1.3" stroke-linecap="butt"/>
<line x1="346.3" y1="377.7" x2="376.6" y2="377.7" stroke="#000" stroke-width="2.0" stroke-linecap="butt"/>
<circle cx="361.1" cy="328.6" r="3.05" fill="#ff3a3a"/>
<circle cx="369.3" cy="357.5" r="3.05" fill="#ff3a3a"/>
<circle cx="353.6" cy="364.5" r="3.05" fill="#ff3a3a"/>
<circle cx="353.6" cy="372.8" r="3.05" fill="#ff3a3a"/>
<circle cx="369.3" cy="377.7" r="3.05" fill="#ff3a3a"/>
<circle cx="361.4" cy="400.7" r="3.05" fill="#ff3a3a"/>
<circle cx="353.6" cy="409.4" r="3.05" fill="#ff3a3a"/>
<circle cx="369.3" cy="410.3" r="3.05" fill="#ff3a3a"/>
<line x1="407.6" y1="385.1" x2="407.6" y2="464.2" stroke="#222" stroke-width="1.2" stroke-linecap="butt"/>
<line x1="400.25" y1="385.1" x2="414.95000000000005" y2="385.1" stroke="#555" stroke-width="1.3" stroke-linecap="butt"/>
<line x1="400.25" y1="464.2" x2="414.95000000000005" y2="464.2" stroke="#555" stroke-width="1.3" stroke-linecap="butt"/>
<line x1="392.4" y1="425" x2="422.7" y2="425" stroke="#000" stroke-width="2.0" stroke-linecap="butt"/>
<circle cx="407.6" cy="359.3" r="3.05" fill="#ff9c9e"/>
<circle cx="400.1" cy="425.6" r="3.05" fill="#ff9c9e"/>
<circle cx="415.4" cy="425.6" r="3.05" fill="#ff9c9e"/>
<circle cx="400.1" cy="457.2" r="3.05" fill="#ff9c9e"/>
<circle cx="415.4" cy="457.4" r="3.05" fill="#ff9c9e"/>
<line x1="439.9" y1="382.9" x2="439.9" y2="450.1" stroke="#555" stroke-width="1.2" stroke-linecap="butt"/>
<line x1="432.34999999999997" y1="382.9" x2="447.45" y2="382.9" stroke="#555" stroke-width="1.3" stroke-linecap="butt"/>
<line x1="432.34999999999997" y1="450.1" x2="447.45" y2="450.1" stroke="#555" stroke-width="1.3" stroke-linecap="butt"/>
<line x1="425.1" y1="416.4" x2="454.9" y2="416.4" stroke="#000" stroke-width="2.0" stroke-linecap="butt"/>
<circle cx="436.2" cy="359.9" r="3.05" fill="#fb7a7e"/>
<circle cx="443.5" cy="359.9" r="3.05" fill="#fb7a7e"/>
<circle cx="436.2" cy="375.9" r="3.05" fill="#fb7a7e"/>
<circle cx="443.5" cy="371.8" r="3.05" fill="#fb7a7e"/>
<circle cx="439.9" cy="395.6" r="3.05" fill="#fb7a7e"/>
<circle cx="436.2" cy="402.6" r="3.05" fill="#fb7a7e"/>
<circle cx="443.5" cy="405.9" r="3.05" fill="#fb7a7e"/>
<circle cx="439.9" cy="421" r="3.05" fill="#fb7a7e"/>
<circle cx="432.5" cy="424.7" r="3.05" fill="#fb7a7e"/>
<circle cx="439.9" cy="431.1" r="3.05" fill="#fb7a7e"/>
<circle cx="447.6" cy="432.4" r="3.05" fill="#fb7a7e"/>
<circle cx="428.6" cy="446.8" r="3.05" fill="#fb7a7e"/>
<circle cx="436.2" cy="447.3" r="3.05" fill="#fb7a7e"/>
<circle cx="443.5" cy="448.6" r="3.05" fill="#fb7a7e"/>
<circle cx="451.3" cy="444.9" r="3.05" fill="#fb7a7e"/>
<circle cx="436.2" cy="451.7" r="3.05" fill="#fb7a7e"/>
<circle cx="443.5" cy="459.1" r="3.05" fill="#fb7a7e"/>
<line x1="472.1" y1="347.9" x2="472.1" y2="405.3" stroke="#333" stroke-width="1.2" stroke-linecap="butt"/>
<line x1="464.75" y1="347.9" x2="479.45000000000005" y2="347.9" stroke="#555" stroke-width="1.3" stroke-linecap="butt"/>
<line x1="464.75" y1="405.3" x2="479.45000000000005" y2="405.3" stroke="#555" stroke-width="1.3" stroke-linecap="butt"/>
<line x1="457.2" y1="376.8" x2="487.5" y2="376.8" stroke="#000" stroke-width="2.0" stroke-linecap="butt"/>
<circle cx="472.2" cy="325.4" r="3.05" fill="#ff3a3a"/>
<circle cx="479.8" cy="357.1" r="3.05" fill="#ff3a3a"/>
<circle cx="464.5" cy="363.9" r="3.05" fill="#ff3a3a"/>
<circle cx="464.5" cy="372.2" r="3.05" fill="#ff3a3a"/>
<circle cx="479.8" cy="379" r="3.05" fill="#ff3a3a"/>
<circle cx="464.5" cy="396.5" r="3.05" fill="#ff3a3a"/>
<circle cx="479.8" cy="403.1" r="3.05" fill="#ff3a3a"/>
<circle cx="472.1" cy="415.8" r="3.05" fill="#ff3a3a"/>
<text x="9.6" y="513.6" font-size="16.5" text-anchor="start" font-weight="normal" fill="#000" >D</text>
<line x1="43.1" y1="530.9" x2="43.1" y2="719.8" stroke="#000" stroke-width="2" stroke-linecap="butt"/>
<line x1="35.6" y1="718.8" x2="43.1" y2="718.8" stroke="#000" stroke-width="2" stroke-linecap="butt"/>
<text x="34.6" y="722.4" font-size="10" text-anchor="end" font-weight="bold" fill="#000" >0</text>
<line x1="35.6" y1="681.42" x2="43.1" y2="681.42" stroke="#000" stroke-width="2" stroke-linecap="butt"/>
<text x="34.6" y="685.02" font-size="10" text-anchor="end" font-weight="bold" fill="#000" >5</text>
<line x1="35.6" y1="644.04" x2="43.1" y2="644.04" stroke="#000" stroke-width="2" stroke-linecap="butt"/>
<text x="34.6" y="647.64" font-size="10" text-anchor="end" font-weight="bold" fill="#000" >10</text>
<line x1="35.6" y1="606.66" x2="43.1" y2="606.66" stroke="#000" stroke-width="2" stroke-linecap="butt"/>
<text x="34.6" y="610.26" font-size="10" text-anchor="end" font-weight="bold" fill="#000" >15</text>
<line x1="35.6" y1="569.28" x2="43.1" y2="569.28" stroke="#000" stroke-width="2" stroke-linecap="butt"/>
<text x="34.6" y="572.88" font-size="10" text-anchor="end" font-weight="bold" fill="#000" >20</text>
<line x1="35.6" y1="531.9" x2="43.1" y2="531.9" stroke="#000" stroke-width="2" stroke-linecap="butt"/>
<text x="34.6" y="535.5" font-size="10" text-anchor="end" font-weight="bold" fill="#000" >25</text>
<line x1="42.1" y1="718.8" x2="304.7" y2="718.8" stroke="#000" stroke-width="2" stroke-linecap="butt"/>
<line x1="43.1" y1="718.8" x2="43.1" y2="726.3" stroke="#000" stroke-width="2" stroke-linecap="butt"/>
<text x="43.1" y="739.8" font-size="10" text-anchor="middle" font-weight="bold" fill="#000" >0</text>
<line x1="86.7" y1="718.8" x2="86.7" y2="723.3" stroke="#000" stroke-width="2" stroke-linecap="butt"/>
<line x1="130.3" y1="718.8" x2="130.3" y2="726.3" stroke="#000" stroke-width="2" stroke-linecap="butt"/>
<text x="130.60000000000002" y="739.8" font-size="10" text-anchor="middle" font-weight="bold" fill="#000" >5000</text>
<line x1="173.9" y1="718.8" x2="173.9" y2="723.3" stroke="#000" stroke-width="2" stroke-linecap="butt"/>
<line x1="217.5" y1="718.8" x2="217.5" y2="726.3" stroke="#000" stroke-width="2" stroke-linecap="butt"/>
<text x="217.8" y="739.8" font-size="10" text-anchor="middle" font-weight="bold" fill="#000" >10000</text>
<line x1="261.1" y1="718.8" x2="261.1" y2="723.3" stroke="#000" stroke-width="2" stroke-linecap="butt"/>
<line x1="304.70000000000005" y1="718.8" x2="304.70000000000005" y2="726.3" stroke="#000" stroke-width="2" stroke-linecap="butt"/>
<text x="305.00000000000006" y="739.8" font-size="10" text-anchor="middle" font-weight="bold" fill="#000" >15000</text>
<text x="174" y="758" font-size="13.2" text-anchor="middle" font-weight="normal" fill="#000" >CRP (ng/ml)</text>
<text transform="translate(16,625.3) rotate(-90)" font-size="15.9" text-anchor="middle">MK count (x10<tspan font-size="11" dy="-7">5</tspan><tspan dy="7">)</tspan></text>
<text x="172.5" y="539.4" font-size="10.05" text-anchor="start" font-weight="normal" fill="#000" >r:0.3877</text>
<text x="172.5" y="551.3" font-size="10.05" text-anchor="start" font-weight="normal" fill="#000" >p=0.0457</text>
<circle cx="254.1" cy="530.2" r="4.6" fill="none" stroke="#ff0000" stroke-width="2.0"/>
<circle cx="254.1" cy="547.3" r="5.2" fill="#ff0000"/>
<text x="262.5" y="534.4" font-size="12.25" text-anchor="start" font-weight="normal" fill="#000" >JAK2V617F -</text>
<text x="262.5" y="551.3" font-size="12.25" text-anchor="start" font-weight="normal" fill="#000" >JAK2V617F+</text>
<line x1="44.5" y1="670.1" x2="266" y2="608" stroke="#555" stroke-width="2" stroke-linecap="butt"/>
<circle cx="49.6" cy="606.4" r="3.75" fill="none" stroke="#a010dc" stroke-width="2.0"/>
<circle cx="79.3" cy="612.5" r="3.75" fill="none" stroke="#ff0000" stroke-width="2.0"/>
<circle cx="86.4" cy="623.1" r="3.75" fill="none" stroke="#ff0000" stroke-width="2.0"/>
<circle cx="84.8" cy="650.9" r="3.75" fill="none" stroke="#ff0000" stroke-width="2.0"/>
<circle cx="49.6" cy="660.1" r="3.75" fill="none" stroke="#0a0ad0" stroke-width="2.0"/>
<circle cx="58.2" cy="664" r="3.75" fill="none" stroke="#a010dc" stroke-width="2.0"/>
<circle cx="65.4" cy="678.3" r="3.75" fill="none" stroke="#ff0000" stroke-width="2.0"/>
<circle cx="98.7" cy="679.9" r="3.75" fill="none" stroke="#ff0000" stroke-width="2.0"/>
<circle cx="125.3" cy="675.8" r="3.75" fill="none" stroke="#ff0000" stroke-width="2.0"/>
<circle cx="49.6" cy="699.3" r="3.75" fill="none" stroke="#0a0ad0" stroke-width="2.0"/>
<circle cx="47.2" cy="701.8" r="3.75" fill="none" stroke="#ff0000" stroke-width="2.0"/>
<circle cx="50.7" cy="708.5" r="3.75" fill="none" stroke="#ff0000" stroke-width="2.0"/>
<circle cx="58.8" cy="710" r="3.75" fill="none" stroke="#ff0000" stroke-width="2.0"/>
<circle cx="44.5" cy="710.6" r="3.75" fill="none" stroke="#22cc22" stroke-width="2.0"/>
<circle cx="66.4" cy="618.6" r="4.6" fill="#ff0000"/>
<circle cx="49" cy="623.1" r="4.6" fill="#ff0000"/>
<circle cx="44.1" cy="626.8" r="4.6" fill="#ff0000"/>
<circle cx="48" cy="631.5" r="4.6" fill="#ff0000"/>
<circle cx="121.6" cy="654.8" r="4.6" fill="#ff0000"/>
<circle cx="129.7" cy="675.2" r="4.6" fill="#ff0000"/>
<circle cx="44.5" cy="684.6" r="4.6" fill="#ff0000"/>
<circle cx="56.8" cy="697.9" r="4.6" fill="#ff0000"/>
<circle cx="70.1" cy="698.3" r="4.6" fill="#ff0000"/>
<circle cx="171.4" cy="609.9" r="4.6" fill="#ff0000"/>
<circle cx="182" cy="611.5" r="4.6" fill="#ff0000"/>
<circle cx="260.1" cy="582.2" r="4.6" fill="#ff0000"/>
<circle cx="266" cy="642.4" r="4.6" fill="#ff0000"/>
<text x="348.8" y="514.6" font-size="16.5" text-anchor="start" font-weight="normal" fill="#000" >E</text>
<line x1="387.2" y1="541.5" x2="387.2" y2="717.8" stroke="#000" stroke-width="2" stroke-linecap="butt"/>
<line x1="379.7" y1="716.8" x2="387.2" y2="716.8" stroke="#000" stroke-width="2" stroke-linecap="butt"/>
<text x="378.7" y="720.4" font-size="10" text-anchor="end" font-weight="bold" fill="#000" >0</text>
<line x1="379.7" y1="681.9399999999999" x2="387.2" y2="681.9399999999999" stroke="#000" stroke-width="2" stroke-linecap="butt"/>
<text x="378.7" y="685.54" font-size="10" text-anchor="end" font-weight="bold" fill="#000" >5</text>
<line x1="379.7" y1="647.0799999999999" x2="387.2" y2="647.0799999999999" stroke="#000" stroke-width="2" stroke-linecap="butt"/>
<text x="378.7" y="650.68" font-size="10" text-anchor="end" font-weight="bold" fill="#000" >10</text>
<line x1="379.7" y1="612.22" x2="387.2" y2="612.22" stroke="#000" stroke-width="2" stroke-linecap="butt"/>
<text x="378.7" y="615.82" font-size="10" text-anchor="end" font-weight="bold" fill="#000" >15</text>
<line x1="379.7" y1="577.36" x2="387.2" y2="577.36" stroke="#000" stroke-width="2" stroke-linecap="butt"/>
<text x="378.7" y="580.96" font-size="10" text-anchor="end" font-weight="bold" fill="#000" >20</text>
<line x1="379.7" y1="542.5" x2="387.2" y2="542.5" stroke="#000" stroke-width="2" stroke-linecap="butt"/>
<text x="378.7" y="546.1" font-size="10" text-anchor="end" font-weight="bold" fill="#000" >25</text>
<line x1="386.2" y1="716.8" x2="648.8" y2="716.8" stroke="#000" stroke-width="2" stroke-linecap="butt"/>
<line x1="387.2" y1="716.8" x2="387.2" y2="724.3" stroke="#000" stroke-width="2" stroke-linecap="butt"/>
<text x="387.2" y="737.6" font-size="10" text-anchor="middle" font-weight="bold" fill="#000" >0</text>
<line x1="430.8" y1="716.8" x2="430.8" y2="721.3" stroke="#000" stroke-width="2" stroke-linecap="butt"/>
<line x1="474.4" y1="716.8" x2="474.4" y2="724.3" stroke="#000" stroke-width="2" stroke-linecap="butt"/>
<text x="474.7" y="737.6" font-size="10" text-anchor="middle" font-weight="bold" fill="#000" >5000</text>
<line x1="518.0" y1="716.8" x2="518.0" y2="721.3" stroke="#000" stroke-width="2" stroke-linecap="butt"/>
<line x1="561.6" y1="716.8" x2="561.6" y2="724.3" stroke="#000" stroke-width="2" stroke-linecap="butt"/>
<text x="561.9" y="737.6" font-size="10" text-anchor="middle" font-weight="bold" fill="#000" >10000</text>
<line x1="605.2" y1="716.8" x2="605.2" y2="721.3" stroke="#000" stroke-width="2" stroke-linecap="butt"/>
<line x1="648.8" y1="716.8" x2="648.8" y2="724.3" stroke="#000" stroke-width="2" stroke-linecap="butt"/>
<text x="649.0999999999999" y="737.6" font-size="10" text-anchor="middle" font-weight="bold" fill="#000" >15000</text>
<text x="517.5" y="757.6" font-size="13.2" text-anchor="middle" font-weight="normal" fill="#000" >CRP (ng/ml)</text>
<text transform="translate(359.7,628) rotate(-90)" font-size="16.1" text-anchor="middle">Mature MK count (x10<tspan font-size="11" dy="-7">5</tspan><tspan dy="7">)</tspan></text>
<text x="529.5" y="541.3" font-size="10.2" text-anchor="start" font-weight="normal" fill="#000" >r:0.3889</text>
<text x="529.5" y="554.9" font-size="10.2" text-anchor="start" font-weight="normal" fill="#000" >p=0.0450</text>
<circle cx="602.4" cy="534.2" r="4.6" fill="none" stroke="#ff0000" stroke-width="2.0"/>
<circle cx="602.4" cy="551.2" r="5.2" fill="#ff0000"/>
<text x="611.2" y="538.4" font-size="12.25" text-anchor="start" font-weight="normal" fill="#000" >JAK2V617F -</text>
<text x="611.2" y="555" font-size="12.25" text-anchor="start" font-weight="normal" fill="#000" >JAK2V617F+</text>
<line x1="388.6" y1="674" x2="610.1" y2="615.3" stroke="#777" stroke-width="2" stroke-linecap="butt"/>
<circle cx="393.7" cy="619.4" r="3.75" fill="none" stroke="#a010dc" stroke-width="2.0"/>
<circle cx="423.8" cy="618.8" r="3.75" fill="none" stroke="#ff0000" stroke-width="2.0"/>
<circle cx="430.9" cy="634.1" r="3.75" fill="none" stroke="#ff0000" stroke-width="2.0"/>
<circle cx="429.1" cy="658.7" r="3.75" fill="none" stroke="#ff0000" stroke-width="2.0"/>
<circle cx="394.1" cy="661.9" r="3.75" fill="none" stroke="#0a0ad0" stroke-width="2.0"/>
<circle cx="402.5" cy="671.5" r="3.75" fill="none" stroke="#a010dc" stroke-width="2.0"/>
<circle cx="409.7" cy="680.1" r="3.75" fill="none" stroke="#ff0000" stroke-width="2.0"/>
<circle cx="442.8" cy="685.2" r="3.75" fill="none" stroke="#ff0000" stroke-width="2.0"/>
<circle cx="469.7" cy="680.7" r="3.75" fill="none" stroke="#ff0000" stroke-width="2.0"/>
<circle cx="393.7" cy="700.8" r="3.75" fill="none" stroke="#0a0ad0" stroke-width="2.0"/>
<circle cx="391.7" cy="701.6" r="3.75" fill="none" stroke="#ff0000" stroke-width="2.0"/>
<circle cx="388.6" cy="711.4" r="3.75" fill="none" stroke="#22cc22" stroke-width="2.0"/>
<circle cx="395.8" cy="710" r="3.75" fill="none" stroke="#ff0000" stroke-width="2.0"/>
<circle cx="402.9" cy="710.4" r="3.75" fill="none" stroke="#ff0000" stroke-width="2.0"/>
<circle cx="410.5" cy="622.9" r="4.6" fill="#ff0000"/>
<circle cx="388.6" cy="630.7" r="4.6" fill="#ff0000"/>
<circle cx="393.7" cy="630.7" r="4.6" fill="#ff0000"/>
<circle cx="391.7" cy="637.2" r="4.6" fill="#ff0000"/>
<circle cx="465.7" cy="653.1" r="4.6" fill="#ff0000"/>
<circle cx="473.4" cy="679.3" r="4.6" fill="#ff0000"/>
<circle cx="388.6" cy="686.9" r="4.6" fill="#ff0000"/>
<circle cx="401.3" cy="700.1" r="4.6" fill="#ff0000"/>
<circle cx="414.2" cy="698.5" r="4.6" fill="#ff0000"/>
<circle cx="515.6" cy="619" r="4.6" fill="#ff0000"/>
<circle cx="526.2" cy="616.1" r="4.6" fill="#ff0000"/>
<circle cx="603.9" cy="586.8" r="4.6" fill="#ff0000"/>
<circle cx="610.1" cy="652.3" r="4.6" fill="#ff0000"/>
</svg></body></html>
